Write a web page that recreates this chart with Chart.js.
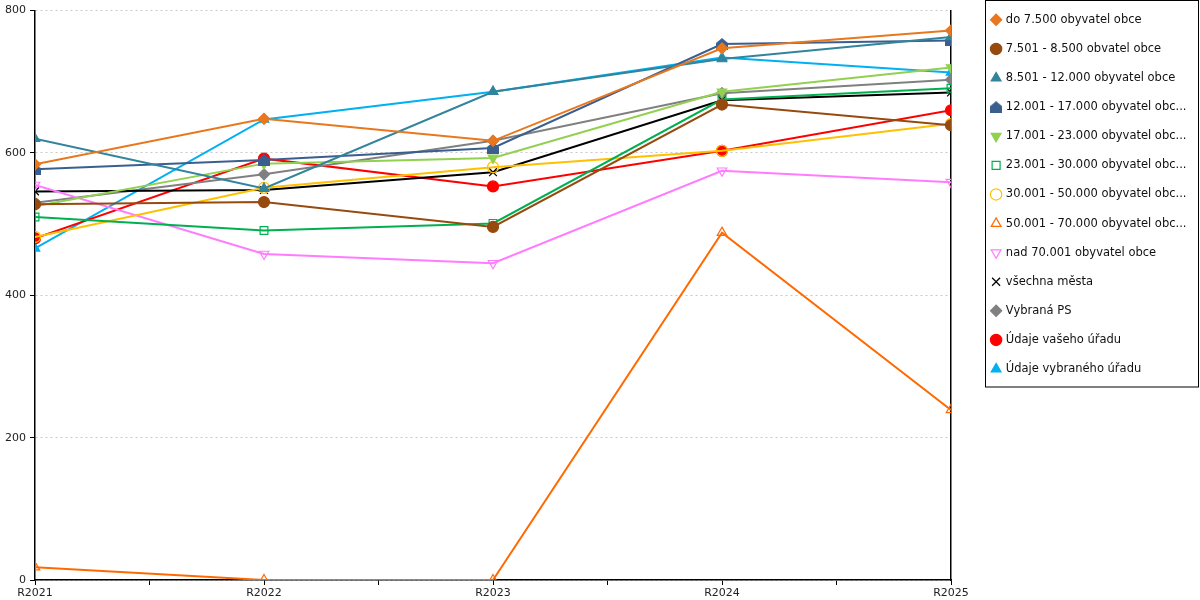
<!DOCTYPE html>
<html>
<head>
<meta charset="utf-8">
<script src="https://cdn.jsdelivr.net/npm/chart.js@4"></script>
<style>
  html, body { margin: 0; padding: 0; background: #fff; }
  #wrap { width: 1200px; height: 600px; }
</style>
</head>
<body>
<div id="wrap"><canvas id="lineChart" width="1200" height="600"></canvas></div>
<script>
const categories = ['R2021', 'R2022', 'R2023', 'R2024', 'R2025'];
const yTicks = [0, 200, 400, 600, 800];

const do7500 = [584, 648, 617, 747, 772];
const od7501 = [528, 531, 496, 668, 639];
const od8501 = [620, 550, 686, 732, 763];
const od12001 = [577, 590, 607, 753, 758];
const od17001 = [525, 585, 593, 686, 720];
const od23001 = [510, 491, 501, 675, 691];
const od30001 = [482, 551, 580, 603, 641];
const od50001 = [18, 0, 0, 488, 239];
const nad70001 = [555, 458, 445, 575, 559];
const vsechnaMesta = [546, 548, 573, 674, 685];
const vybranaPS = [530, 570, 617, 684, 703];
const vasUrad = [480, 592, 553, 603, 660];
const vybranyUrad = [466, 647, 686, 734, 713];

// house shaped marker (12.001 - 17.000)
function houseMarker(color) {
    const c = document.createElement('canvas');
    c.width = 12; c.height = 12;
    const g = c.getContext('2d');
    g.fillStyle = color;
    g.beginPath();
    g.moveTo(6, 0);
    g.lineTo(12, 5);
    g.lineTo(12, 12);
    g.lineTo(0, 12);
    g.lineTo(0, 5);
    g.closePath();
    g.fill();
    return c;
}

function serie(label, values, color, style, filled, rotation) {
    return {
        label: label,
        data: values.map((v, i) => ({ x: i, y: v })),
        borderColor: color,
        backgroundColor: color,
        borderWidth: 2,
        pointStyle: style,
        rotation: rotation || 0,
        pointRadius: 5.5,
        pointBorderWidth: 1.2,
        pointBorderColor: color,
        pointBackgroundColor: filled ? color : 'rgba(255,255,255,0)',
        tension: 0
    };
}

const datasets = [
    serie('do 7.500 obyvatel obce', do7500, '#E8771E', 'rectRot', true),
    serie('7.501 - 8.500 obvatel obce', od7501, '#974A0E', 'circle', true),
    serie('8.501 - 12.000 obyvatel obce', od8501, '#31849B', 'triangle', true),
    serie('12.001 - 17.000 obyvatel obce', od12001, '#3A5F8F', houseMarker('#3A5F8F'), true),
    serie('17.001 - 23.000 obyvatel obce', od17001, '#92D050', 'triangle', true, 180),
    serie('23.001 - 30.000 obyvatel obce', od23001, '#00B050', 'rect', false),
    serie('30.001 - 50.000 obyvatel obce', od30001, '#FFC000', 'circle', false),
    serie('50.001 - 70.000 obyvatel obce', od50001, '#FF6A00', 'triangle', false),
    serie('nad 70.001 obyvatel obce', nad70001, '#FF7BFF', 'triangle', false, 180),
    serie('všechna města', vsechnaMesta, '#000000', 'crossRot', false),
    serie('Vybraná PS', vybranaPS, '#808080', 'rectRot', true),
    serie('Údaje vašeho úřadu', vasUrad, '#FF0000', 'circle', true),
    serie('Údaje vybraného úřadu', vybranyUrad, '#00B0F0', 'triangle', true)
];

const legendBox = {
    id: 'legendBox',
    afterLayout(chart) {
        // place the legend block where the reference has it
        const lg = chart.legend;
        lg.left = 974.5;
        lg.right = 1200;
        lg.width = 225.5;
        lg.top -= 3.5;
        lg.bottom -= 3.5;
    },
    afterDraw(chart) {
        const ctx = chart.ctx;
        ctx.save();
        ctx.strokeStyle = '#000';
        ctx.lineWidth = 1;
        ctx.strokeRect(985.5, 0.5, 213, 386.5);
        ctx.restore();
    }
};

Chart.defaults.font.family = '"DejaVu Sans", Verdana, sans-serif';
Chart.defaults.color = '#222';

new Chart(document.getElementById('lineChart'), {
    type: 'line',
    data: { datasets: datasets },
    options: {
        responsive: false,
        animation: false,
        layout: { padding: { top: 0, right: 0, left: 0, bottom: 0 } },
        scales: {
            x: {
                type: 'linear',
                min: 0,
                max: categories.length - 1,
                afterBuildTicks: s => {
                    const t = [];
                    for (let v = 0; v <= categories.length - 1; v += 0.5) t.push({ value: v });
                    s.ticks = t;
                },
                ticks: {
                    autoSkip: false,
                    maxRotation: 0,
                    padding: 2,
                    font: { size: 11 },
                    callback: v => Number.isInteger(v) ? categories[v] : ''
                },
                grid: { drawOnChartArea: false, tickLength: 5, tickColor: '#000' },
                border: { color: '#000', width: 1.5 },
                afterFit: s => { s.height = 20; }
            },
            xTop: {
                type: 'linear',
                position: 'top',
                min: 0,
                max: categories.length - 1,
                ticks: { display: false },
                grid: { display: false },
                border: { display: false },
                afterFit: s => { s.height = 10; }
            },
            y: {
                min: 0,
                max: 800,
                afterBuildTicks: s => { s.ticks = yTicks.map(v => ({ value: v })); },
                ticks: { padding: 4, font: { size: 11 } },
                grid: { color: '#C8C8C8', tickColor: '#000', tickLength: 5 },
                border: { color: '#000', width: 1.5, dash: [2, 3] },
                afterFit: s => { s.width = 35; }
            },
            y2: {
                position: 'right',
                min: 0,
                max: 800,
                ticks: { display: false },
                grid: { display: false },
                border: { color: '#000', width: 1.5 },
                afterFit: s => { s.width = 49; }
            }
        },
        plugins: {
            legend: {
                position: 'right',
                align: 'start',
                labels: {
                    usePointStyle: true,
                    boxWidth: 8,
                    boxHeight: 8,
                    padding: 17.6,
                    color: '#111',
                    font: { size: 11.5 },
                    generateLabels: chart => {
                        const items = Chart.defaults.plugins.legend.labels.generateLabels(chart);
                        items.forEach(it => {
                            const t = it.text;
                            it.text = t.length > 28 ? t.slice(0, 28) + '...' : t;
                        });
                        return items;
                    }
                }
            },
            tooltip: { enabled: false }
        }
    },
    plugins: [legendBox]
});
</script>
</body>
</html>
